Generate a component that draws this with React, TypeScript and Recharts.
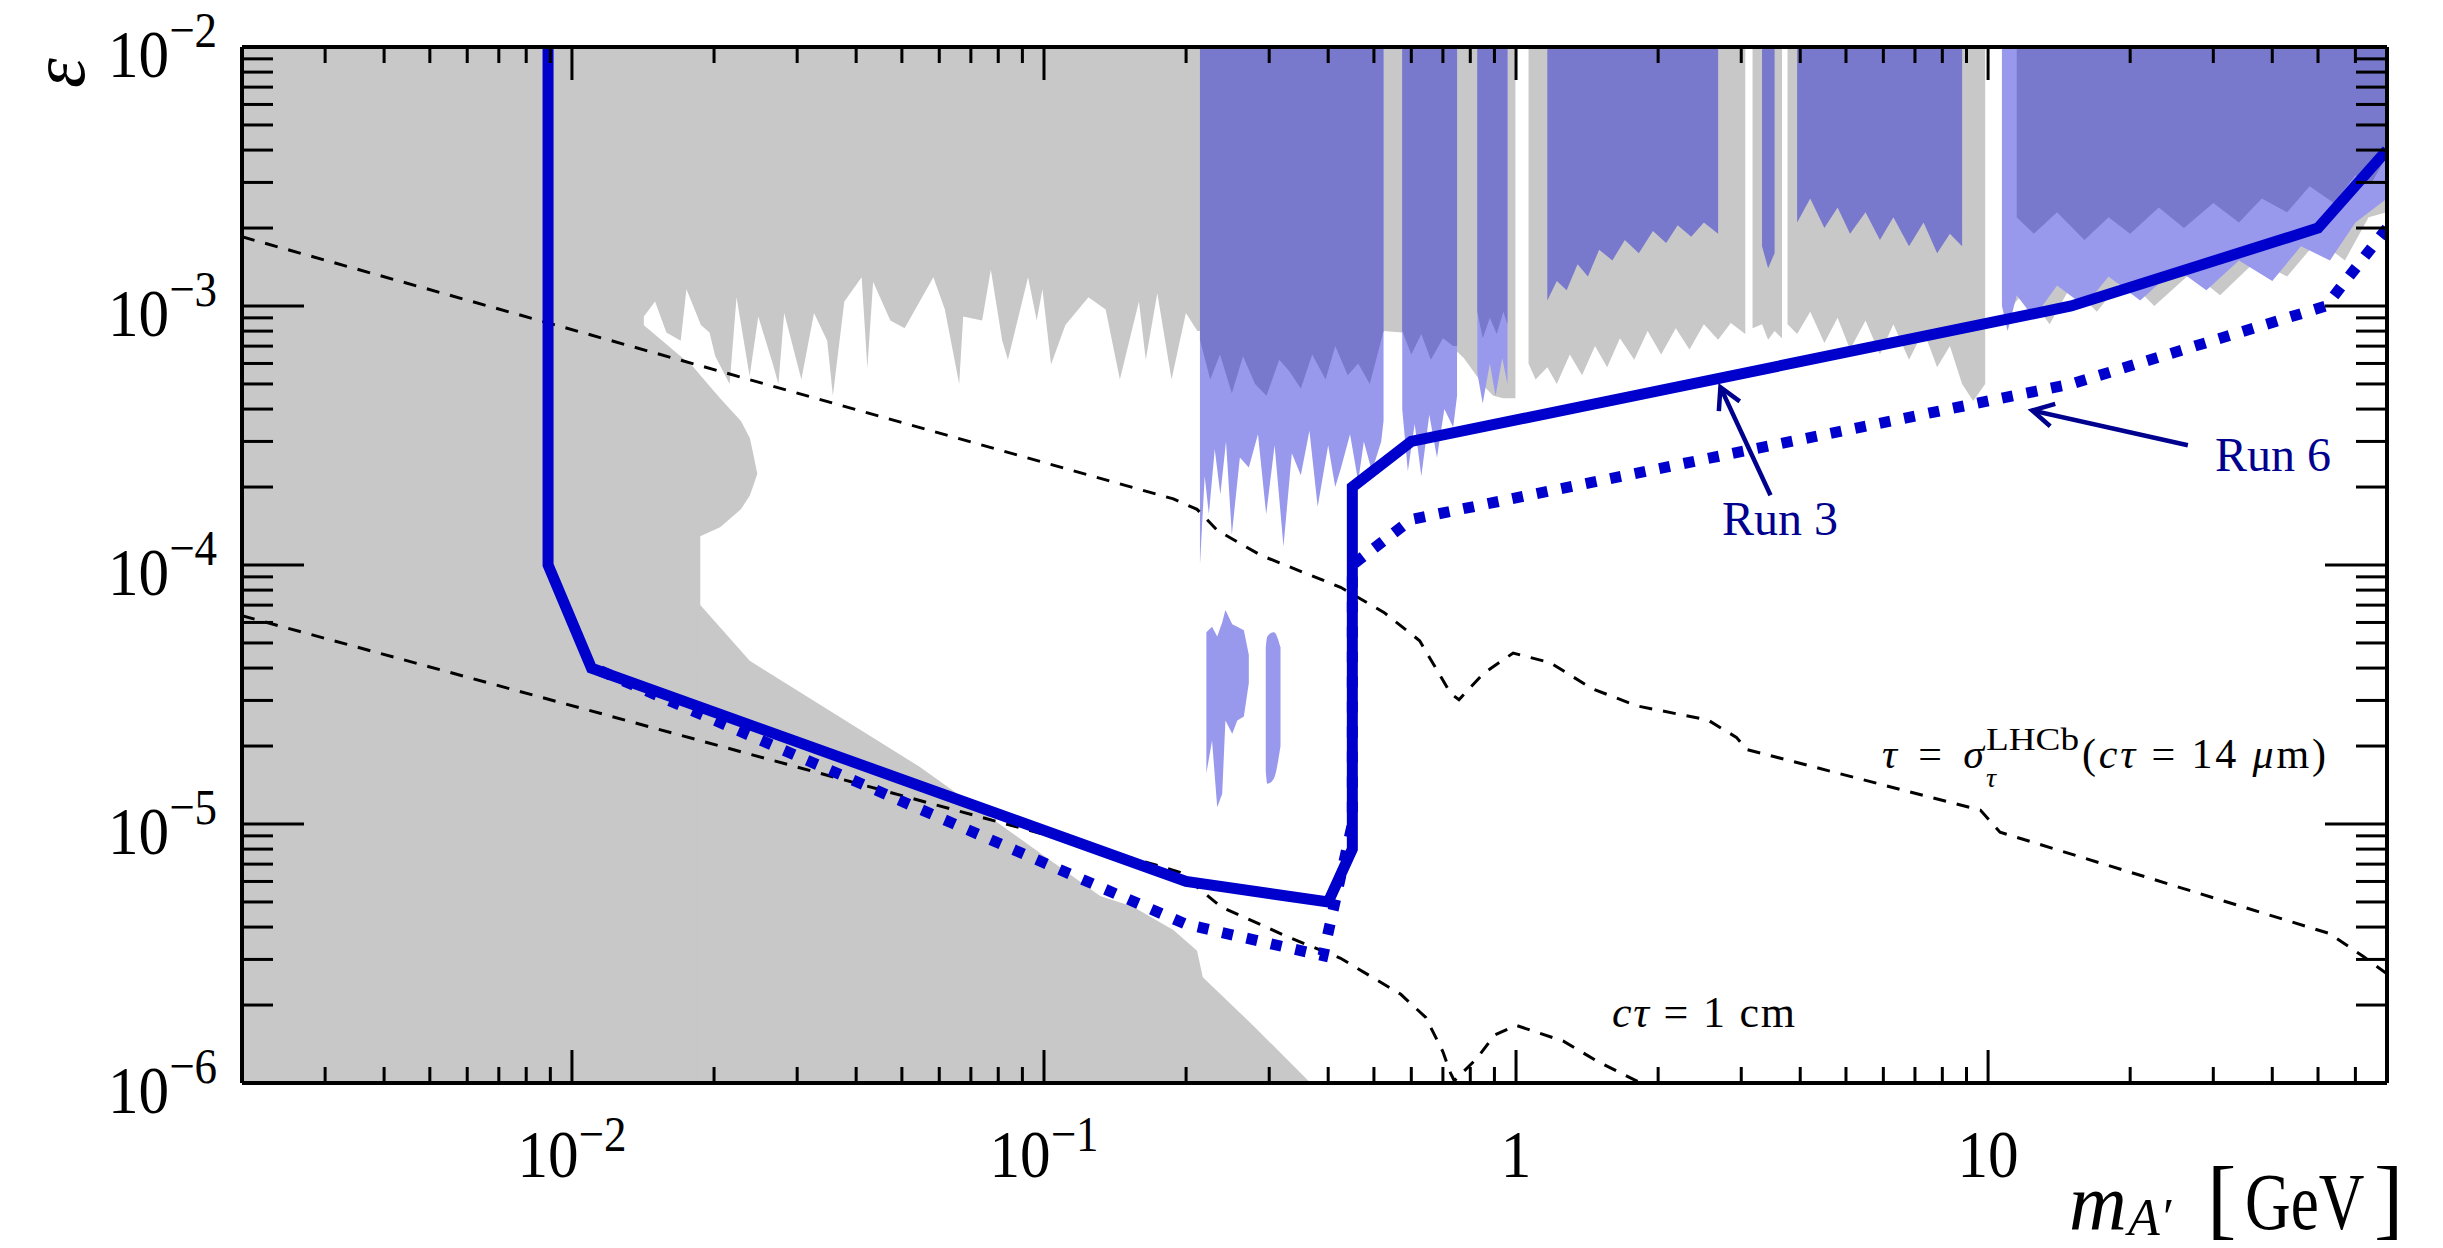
import React from "react";
import { ComposedChart, Area, Line, XAxis, YAxis, ReferenceLine } from "recharts";

const W = 2443;
const H = 1248;
const PLOT_LEFT = 242;
const PLOT_TOP = 47;
const PLOT_RIGHT = 2387;
const PLOT_BOTTOM = 1083;
const EPS_TOP = 1e-2;

const GRAY = "#c8c8c8";
const DARK_BLUE = "#7878cc";
const LIGHT_BLUE = "#9898ec";
const LINE_BLUE = "#0000cc";
const NAVY = "#00008f";
const FONT = "'Liberation Serif', 'Times New Roman', serif";

// axis ticks
const xMajorTicks = [0.01, 0.1, 1, 10];
const xMajorBase = ["10", "10", "1", "10"];
const xMajorExp = ["\u22122", "\u22121", "", ""];
const xMinorTicks = [
  0.002, 0.003, 0.004, 0.005, 0.006, 0.007, 0.008, 0.009,
  0.02, 0.03, 0.04, 0.05, 0.06, 0.07, 0.08, 0.09,
  0.2, 0.3, 0.4, 0.5, 0.6, 0.7, 0.8, 0.9,
  2, 3, 4, 5, 6, 7, 8, 9,
  20, 30, 40, 50, 60, 70,
];
const yMajorTicks = [1e-6, 1e-5, 1e-4, 1e-3, 1e-2];
const yMajorExp = ["\u22126", "\u22125", "\u22124", "\u22123", "\u22122"];
const yMinorTicks = [
  2e-6, 3e-6, 4e-6, 5e-6, 6e-6, 7e-6, 8e-6, 9e-6,
  2e-5, 3e-5, 4e-5, 5e-5, 6e-5, 7e-5, 8e-5, 9e-5,
  2e-4, 3e-4, 4e-4, 5e-4, 6e-4, 7e-4, 8e-4, 9e-4,
  2e-3, 3e-3, 4e-3, 5e-3, 6e-3, 7e-3, 8e-3, 9e-3,
];

// grey excluded region, upper left (lower edge of the grey, noisy)
const grayUpperMass = [
  0.002, 0.0142, 0.0142, 0.015, 0.01585, 0.017, 0.01748, 0.01876, 0.01956, 0.02012,
  0.02158, 0.02232, 0.02379, 0.02482, 0.02662, 0.02738, 0.02816, 0.03062, 0.03257, 0.03473,
  0.03571, 0.03776, 0.04109, 0.04225, 0.04345, 0.04726, 0.05068, 0.05284, 0.0583, 0.06166,
  0.06612, 0.06743, 0.07396, 0.07716, 0.08157, 0.08387, 0.09253, 0.09652, 0.09925, 0.1035,
  0.111, 0.1242, 0.1351, 0.1448, 0.1589, 0.1643, 0.1738, 0.1863, 0.1998, 0.2113, 0.216,
];
const grayUpperLow = [
  1e-6, 1e-6, 9.1e-4, 1.04e-3, 7.9e-4, 7.35e-4, 1.16e-3, 8.45e-4, 7.9e-4, 6.4e-4,
  5.0e-4, 1.08e-3, 5.35e-4, 9.1e-4, 6.0e-4, 5.0e-4, 9.4e-4, 5.2e-4, 9.4e-4, 7.35e-4,
  4.5e-4, 1.04e-3, 1.29e-3, 5.75e-4, 1.24e-3, 8.8e-4, 8.2e-4, 9.4e-4, 1.29e-3, 9.7e-4,
  5.0e-4, 9.1e-4, 8.8e-4, 1.38e-3, 7.35e-4, 6.2e-4, 1.29e-3, 8.8e-4, 1.16e-3, 5.95e-4,
  8.45e-4, 1.08e-3, 9.7e-4, 5.2e-4, 1.04e-3, 6.2e-4, 1.12e-3, 5.2e-4, 9.4e-4, 8.0e-4, 8.0e-4,
];

// grey bulge at ~20 MeV
const bulgeMass = [0.0137, 0.0181, 0.0187, 0.0187, 0.0206, 0.0228, 0.0238, 0.02417, 0.0247];
const bulgeLow = [1e-6, 1e-6, 1e-6, 1.29e-4, 1.4e-4, 1.64e-4, 1.85e-4, 2.0e-4, 2.25e-4];
const bulgeHigh = [8.9e-4, 5.8e-4, 5.4e-4, 5.4e-4, 4.4e-4, 3.6e-4, 3.1e-4, 2.73e-4, 2.25e-4];

// grey region, lower left
const grayLowerMass = [0.0184, 0.0187, 0.0238, 0.0546, 0.1315, 0.154, 0.188, 0.211, 0.217, 0.279, 0.367];
const grayLowerHigh = [7.0e-5, 7.0e-5, 4.27e-5, 1.66e-5, 5.27e-6, 4.8e-6, 3.9e-6, 3.24e-6, 2.56e-6, 1.65e-6, 1e-6];

// grey region above ~0.5 GeV (null = white gap)
const grayMass = [
  0.524, 0.574, 0.637, 0.7, 0.736, 0.775, 0.812, 0.855, 0.895, 0.94,
  0.997, 1.03, 1.063, 1.1, 1.165, 1.22, 1.3, 1.38, 1.47, 1.56,
  1.66, 1.78, 1.9, 2.03, 2.18, 2.33, 2.5, 2.68, 2.85, 3.06,
  3.1, 3.17, 3.32, 3.42, 3.53, 3.66, 3.7, 3.76, 3.94, 4.2,
  4.5, 4.8, 5.1, 5.5, 5.9, 6.3, 6.8, 7.3, 7.8, 8.3,
  8.81, 9.3, 9.86, 10.2, 10.7, 11, 12, 13.5, 15, 17,
  19.5, 22.5, 27, 31, 37, 43, 50, 57, 64, 70,
];
const grayLow = [
  8.0e-4, 7.9e-4, 7.8e-4, 7.3e-4, 6.9e-4, 6.3e-4, 5.6e-4, 4.9e-4, 4.5e-4, 4.4e-4,
  4.4e-4, null, 6.0e-4, 5.2e-4, 5.8e-4, 5.0e-4, 6.5e-4, 5.4e-4, 7.0e-4, 5.8e-4,
  7.5e-4, 6.2e-4, 8.0e-4, 6.5e-4, 8.2e-4, 6.8e-4, 8.5e-4, 7.4e-4, 8.6e-4, 7.8e-4,
  null, 8.2e-4, 8.5e-4, 7.4e-4, 8.0e-4, 7.5e-4, null, 8.5e-4, 7.8e-4, 9.5e-4,
  7.2e-4, 9.0e-4, 6.8e-4, 8.8e-4, 6.5e-4, 8.5e-4, 6.2e-4, 8.0e-4, 5.8e-4, 7.0e-4,
  5.0e-4, 4.3e-4, 5.0e-4, null, 1.1e-3, 9.5e-4, 1.15e-3, 8.5e-4, 1.2e-3, 9.5e-4,
  1.3e-3, 1.0e-3, 1.35e-3, 1.1e-3, 1.5e-3, 1.3e-3, 1.8e-3, 1.5e-3, 2.2e-3, 2.3e-3,
];

// LHCb excluded, light blue fringe
const lightMass = [
  0.214, 0.219, 0.2235, 0.23, 0.2364, 0.243, 0.25, 0.26, 0.2716, 0.284,
  0.2956, 0.308, 0.3216, 0.335, 0.35, 0.365, 0.38, 0.4, 0.414, 0.426,
  0.445, 0.463, 0.476, 0.495, 0.518, 0.524, 0.55, 0.574, 0.59, 0.61,
  0.63, 0.655, 0.68, 0.705, 0.736, 0.75, 0.79, 0.828, 0.85, 0.88,
  0.905, 0.935, 0.959, 5, 10.7, 11, 11.5, 12.5, 14, 16,
  18, 21, 25, 29, 34, 40, 46, 53, 60, 70,
];
const lightLow = [
  1.0e-4, 2.2e-4, 1.57e-4, 2.8e-4, 1.87e-4, 3.0e-4, 1.31e-4, 2.6e-4, 2.38e-4, 3.2e-4,
  1.57e-4, 2.9e-4, 1.18e-4, 2.7e-4, 2.22e-4, 3.3e-4, 1.68e-4, 2.9e-4, 2.0e-4, 2.38e-4,
  3.2e-4, 2.1e-4, 3.0e-4, 2.3e-4, 3.0e-4, 3.6e-4, null, 4.0e-4, 2.3e-4, 3.5e-4,
  2.2e-4, 3.8e-4, 2.6e-4, 4.0e-4, 3.4e-4, 4.5e-4, null, 5.5e-4, 4.2e-4, 6.0e-4,
  4.5e-4, 6.3e-4, 5.0e-4, null, 1.0e-3, 8.0e-4, 1.1e-3, 9.0e-4, 1.2e-3, 1.0e-3,
  1.3e-3, 1.05e-3, 1.4e-3, 1.15e-3, 1.5e-3, 1.25e-3, 1.7e-3, 1.5e-3, 2.1e-3, 2.6e-3,
];

// LHCb excluded, dark blue
const darkMass = [
  0.214, 0.225, 0.236, 0.25, 0.264, 0.28, 0.296, 0.315, 0.331, 0.35,
  0.37, 0.395, 0.414, 0.44, 0.463, 0.49, 0.524, 0.55, 0.574, 0.6,
  0.63, 0.66, 0.7, 0.736, 0.75, 0.79, 0.828, 0.85, 0.88, 0.91,
  0.94, 0.959, 1.05, 1.165, 1.22, 1.28, 1.35, 1.42, 1.5, 1.6,
  1.7, 1.82, 1.95, 2.08, 2.2, 2.35, 2.5, 2.68, 2.9, 3.32,
  3.42, 3.53, 3.7, 3.94, 4.2, 4.5, 4.8, 5.1, 5.5, 5.9,
  6.3, 6.8, 7.3, 7.8, 8.3, 8.81, 10, 11.5, 12.5, 14,
  16, 18, 20, 23, 26, 30, 34, 38, 43, 48,
  54, 60, 65, 70,
];
const darkLow = [
  7.4e-4, 5.2e-4, 6.5e-4, 4.6e-4, 6.4e-4, 5.0e-4, 4.5e-4, 6.2e-4, 5.6e-4, 4.8e-4,
  6.5e-4, 5.2e-4, 7.0e-4, 5.4e-4, 6.0e-4, 5.0e-4, 8.0e-4, null, 8.0e-4, 6.5e-4,
  7.8e-4, 6.2e-4, 7.5e-4, 7.0e-4, 7.0e-4, null, 9.5e-4, 7.5e-4, 9.0e-4, 7.8e-4,
  9.5e-4, 8.5e-4, null, 1.05e-3, 1.25e-3, 1.15e-3, 1.45e-3, 1.3e-3, 1.65e-3, 1.5e-3,
  1.8e-3, 1.6e-3, 1.95e-3, 1.75e-3, 2.05e-3, 1.85e-3, 2.1e-3, 1.9e-3, null, 1.7e-3,
  1.4e-3, 1.6e-3, null, 2.1e-3, 2.6e-3, 2.0e-3, 2.4e-3, 1.9e-3, 2.3e-3, 1.8e-3,
  2.2e-3, 1.7e-3, 2.1e-3, 1.6e-3, 1.9e-3, 1.7e-3, null, 2.2e-3, 1.9e-3, 2.3e-3,
  1.8e-3, 2.2e-3, 1.9e-3, 2.4e-3, 2.0e-3, 2.5e-3, 2.1e-3, 2.6e-3, 2.3e-3, 2.9e-3,
  2.5e-3, 3.2e-3, 3.0e-3, 3.8e-3,
];

// small light-blue islands near 0.25 GeV
const blob1Mass = [0.2208, 0.227, 0.2328, 0.2385, 0.2423, 0.2505, 0.2567, 0.2651, 0.2716];
const blob1Low = [1.57e-5, 2.1e-5, 1.16e-5, 1.31e-5, 2.51e-5, 2.23e-5, 2.51e-5, 2.6e-5, 3.5e-5];
const blob1High = [5.5e-5, 5.77e-5, 5.3e-5, 6.0e-5, 6.7e-5, 5.9e-5, 5.77e-5, 5.6e-5, 4.5e-5];
const blob2Mass = [0.295, 0.2972, 0.3069, 0.317];
const blob2Low = [1.6e-5, 1.43e-5, 1.5e-5, 2.0e-5];
const blob2High = [4.8e-5, 5.3e-5, 5.5e-5, 4.8e-5];

// dashed lifetime contours
const ctau1cmMass = [0.002, 0.168, 0.194, 0.237, 0.328, 0.425, 0.57, 0.644, 0.7, 0.727, 0.74, 0.828, 0.9, 1.0, 1.26, 1.49, 1.76, 1.84];
const ctau1cmEps = [6.37e-5, 7.05e-6, 6.5e-6, 4.79e-6, 3.67e-6, 3.03e-6, 2.2e-6, 1.79e-6, 1.32e-6, 1.09e-6, 1.02e-6, 1.25e-6, 1.53e-6, 1.67e-6, 1.45e-6, 1.21e-6, 1.04e-6, 1e-6];
const tauResMass = [0.002, 0.188, 0.211, 0.233, 0.288, 0.425, 0.525, 0.625, 0.727, 0.757, 0.854, 0.986, 1.18, 1.45, 1.8, 2.55, 2.93, 3.08, 9.64, 10.6, 52.8, 62.5, 70];
const tauResEps = [1.85e-3, 1.8e-4, 1.64e-4, 1.36e-4, 1.09e-4, 8.2e-5, 6.56e-5, 5.1e-5, 3.19e-5, 3.02e-5, 3.82e-5, 4.57e-5, 4.2e-5, 3.33e-5, 2.86e-5, 2.52e-5, 2.16e-5, 1.94e-5, 1.13e-5, 9.3e-6, 3.78e-6, 3.07e-6, 2.64e-6];

// projected reach
const run3Mass = [0.0089, 0.0089, 0.011, 0.2, 0.4, 0.45, 0.45, 0.6, 15, 50, 70];
const run3Eps = [1e-2, 1e-4, 4e-5, 6e-6, 5e-6, 8e-6, 2e-4, 3e-4, 1e-3, 2e-3, 4e-3];
const run6Mass = [0.0115, 0.2, 0.39, 0.45, 0.45, 0.6, 15, 52, 70];
const run6Eps = [3.9e-5, 4.1e-6, 3.1e-6, 1e-5, 1e-4, 1.5e-4, 5e-4, 1e-3, 2e-3];

// annotation arrows (tail, head)
const run3ArrowMass = [3.46, 2.71];
const run3ArrowEps = [1.86e-4, 4.86e-4];
const run6ArrowMass = [26.5, 12.4];
const run6ArrowEps = [2.9e-4, 3.95e-4];

const bandRows = (mass: number[], low: (number | null)[], high?: number[]) =>
  mass.map((m, i) => ({ m, band: low[i] == null ? null : [low[i], high ? high[i] : EPS_TOP] }));
const lineRows = (mass: number[], eps: number[]) => mass.map((m, i) => ({ m, eps: eps[i] }));

function XTick(props: any) {
  const { x, y, payload } = props;
  const idx = xMajorTicks.indexOf(payload.value);
  const len = idx >= 0 ? 33 : 16;
  return (
    <g>
      <line x1={x} x2={x} y1={y} y2={y - len} stroke="#000" strokeWidth={3} />
      <line x1={x} x2={x} y1={PLOT_TOP} y2={PLOT_TOP + len} stroke="#000" strokeWidth={3} />
      {idx >= 0 && (
        <text transform={`translate(${x},${y + 94}) scale(0.9,1)`} textAnchor="middle" fontFamily={FONT} fontSize={68} fill="#000">
          {xMajorBase[idx]}
          {xMajorExp[idx] && <tspan dy={-26} fontSize={50}>{xMajorExp[idx]}</tspan>}
        </text>
      )}
    </g>
  );
}

function YTick(props: any) {
  const { x, y, payload } = props;
  const idx = yMajorTicks.indexOf(payload.value);
  const len = idx >= 0 ? 62 : 31;
  return (
    <g>
      <line x1={x} x2={x + len} y1={y} y2={y} stroke="#000" strokeWidth={3} />
      <line x1={PLOT_RIGHT - len} x2={PLOT_RIGHT} y1={y} y2={y} stroke="#000" strokeWidth={3} />
      {idx >= 0 && (
        <text transform={`translate(${x - 25},${y + 30}) scale(0.9,1)`} textAnchor="end" fontFamily={FONT} fontSize={68} fill="#000">
          10<tspan dy={-30} fontSize={50}>{yMajorExp[idx]}</tspan>
        </text>
      )}
    </g>
  );
}

function ArrowShape(props: any) {
  const { x1, y1, x2, y2 } = props;
  const ang = Math.atan2(y2 - y1, x2 - x1);
  const head = 24;
  const a1 = ang + Math.PI - 0.5;
  const a2 = ang + Math.PI + 0.5;
  return (
    <g>
      <line x1={x1} y1={y1} x2={x2} y2={y2} stroke={NAVY} strokeWidth={4.5} />
      <path
        d={`M${x2 + head * Math.cos(a1)},${y2 + head * Math.sin(a1)} L${x2},${y2} L${x2 + head * Math.cos(a2)},${y2 + head * Math.sin(a2)}`}
        fill="none"
        stroke={NAVY}
        strokeWidth={4.5}
      />
    </g>
  );
}

function Annotations() {
  return (
    <svg width={W} height={H} style={{ position: "absolute", left: 0, top: 0, pointerEvents: "none" }} fontFamily={FONT}>
      <text transform="translate(84,73) rotate(-90)" textAnchor="middle" fontStyle="italic" fontSize={76}>ε</text>
      <text x={2069} y={1229} fontStyle="italic" fontSize={80}>m</text>
      <text x={2128} y={1235} fontStyle="italic" fontSize={52}>A′</text>
      <text x={2207} y={1228} fontSize={88}>[</text>
      <text transform="translate(2245,1229) scale(0.79,1)" fontSize={80}>GeV</text>
      <text x={2374} y={1228} fontSize={88}>]</text>
      <text x={1722} y={535} fontSize={48} fill={NAVY}>Run 3</text>
      <text x={2215} y={471} fontSize={48} fill={NAVY}>Run 6</text>
      <text x={1612} y={1027} fontSize={44} textLength={183} lengthAdjust="spacing">
        <tspan fontStyle="italic">cτ</tspan> = 1 cm
      </text>
      <text x={1882} y={768} fontSize={42} textLength={102} lengthAdjust="spacing">
        <tspan fontStyle="italic">τ</tspan> = <tspan fontStyle="italic">σ</tspan>
      </text>
      <text x={1986} y={750} fontSize={31} textLength={93} lengthAdjust="spacingAndGlyphs">LHCb</text>
      <text x={1986} y={787} fontSize={28} fontStyle="italic">τ</text>
      <text x={2082} y={768} fontSize={42} textLength={244} lengthAdjust="spacing">
        (<tspan fontStyle="italic">cτ</tspan> = 14 <tspan fontStyle="italic">μ</tspan>m)
      </text>
    </svg>
  );
}

export default function App() {
  return (
    <div style={{ position: "absolute", left: 0, top: 0, width: W, height: H, background: "#fff" }}>
      <ComposedChart width={W} height={H} margin={{ top: PLOT_TOP, right: W - PLOT_RIGHT, bottom: 0, left: 0 }}>
        <XAxis
          dataKey="m"
          type="number"
          scale="log"
          domain={[0.002, 70]}
          allowDataOverflow
          ticks={[...xMajorTicks, ...xMinorTicks]}
          interval={0}
          tickLine={false}
          tickSize={0}
          tickMargin={0}
          height={H - PLOT_BOTTOM}
          axisLine={{ stroke: "#000", strokeWidth: 4 }}
          tick={(p: any) => <XTick {...p} />}
        />
        <YAxis
          type="number"
          scale="log"
          domain={[1e-6, 1e-2]}
          allowDataOverflow
          ticks={[...yMajorTicks, ...yMinorTicks]}
          interval={0}
          tickLine={false}
          tickSize={0}
          tickMargin={0}
          width={PLOT_LEFT}
          axisLine={{ stroke: "#000", strokeWidth: 4 }}
          tick={(p: any) => <YTick {...p} />}
        />

        <Area data={bandRows(grayUpperMass, grayUpperLow)} dataKey="band" type="linear" stroke="none" fill={GRAY} fillOpacity={1} isAnimationActive={false} />
        <Area data={bandRows(bulgeMass, bulgeLow, bulgeHigh)} dataKey="band" type="linear" stroke="none" fill={GRAY} fillOpacity={1} isAnimationActive={false} />
        <Area data={bandRows(grayLowerMass, grayLowerMass.map(() => 1e-6), grayLowerHigh)} dataKey="band" type="linear" stroke="none" fill={GRAY} fillOpacity={1} isAnimationActive={false} />
        <Area data={bandRows(grayMass, grayLow)} dataKey="band" type="linear" stroke="none" fill={GRAY} fillOpacity={1} isAnimationActive={false} />
        <Area data={bandRows(lightMass, lightLow)} dataKey="band" type="linear" stroke="none" fill={LIGHT_BLUE} fillOpacity={1} isAnimationActive={false} />
        <Area data={bandRows(darkMass, darkLow)} dataKey="band" type="linear" stroke="none" fill={DARK_BLUE} fillOpacity={1} isAnimationActive={false} />
        <Area data={bandRows(blob1Mass, blob1Low, blob1High)} dataKey="band" type="linear" stroke="none" fill={LIGHT_BLUE} fillOpacity={1} isAnimationActive={false} />
        <Area data={bandRows(blob2Mass, blob2Low, blob2High)} dataKey="band" type="monotone" stroke="none" fill={LIGHT_BLUE} fillOpacity={1} isAnimationActive={false} />

        <Line data={lineRows(ctau1cmMass, ctau1cmEps)} dataKey="eps" type="linear" stroke="#000" strokeWidth={3} strokeDasharray="13 11" dot={false} activeDot={false} isAnimationActive={false} />
        <Line data={lineRows(tauResMass, tauResEps)} dataKey="eps" type="linear" stroke="#000" strokeWidth={3} strokeDasharray="13 11" dot={false} activeDot={false} isAnimationActive={false} />
        <Line data={lineRows(run6Mass, run6Eps)} dataKey="eps" type="linear" stroke={LINE_BLUE} strokeWidth={11} strokeDasharray="11 14" dot={false} activeDot={false} isAnimationActive={false} />
        <Line data={lineRows(run3Mass, run3Eps)} dataKey="eps" type="linear" stroke={LINE_BLUE} strokeWidth={11} dot={false} activeDot={false} isAnimationActive={false} />

        <ReferenceLine
          segment={[{ x: run3ArrowMass[0], y: run3ArrowEps[0] }, { x: run3ArrowMass[1], y: run3ArrowEps[1] }]}
          shape={(p: any) => <ArrowShape {...p} />}
        />
        <ReferenceLine
          segment={[{ x: run6ArrowMass[0], y: run6ArrowEps[0] }, { x: run6ArrowMass[1], y: run6ArrowEps[1] }]}
          shape={(p: any) => <ArrowShape {...p} />}
        />
        <ReferenceLine y={1e-2} stroke="#000" strokeWidth={4} />
        <ReferenceLine x={70} stroke="#000" strokeWidth={4} />
      </ComposedChart>
      <Annotations />
    </div>
  );
}
